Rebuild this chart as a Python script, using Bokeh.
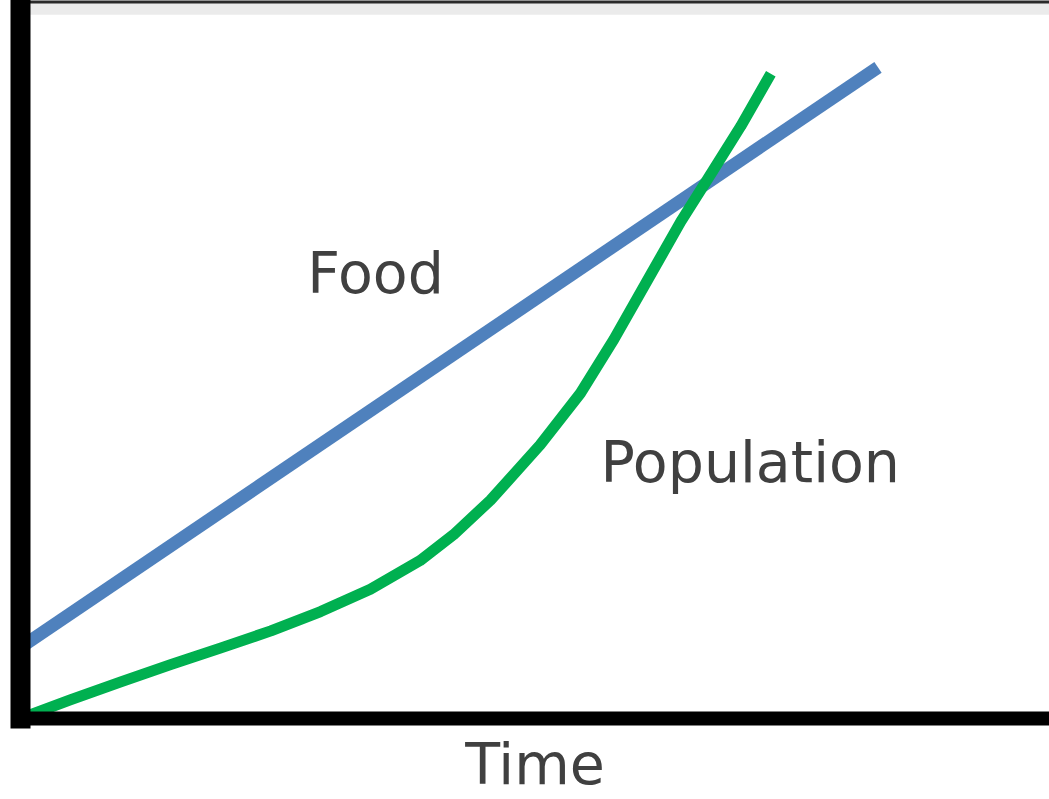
from bokeh.plotting import figure
from bokeh.models import Range1d, Span, BoxAnnotation
from bokeh.core.properties import value
from bokeh.embed import file_html
from bokeh.resources import INLINE

# Data (arbitrary units)
food_time = [0, 10]
food_value = [9.9, 90.7]

pop_time = [0, 0.58, 1.17, 1.75, 2.33, 2.92, 3.50, 4.08, 4.66, 5.05,
            5.48, 6.06, 6.53, 6.92, 7.31, 7.70, 8.08, 8.40, 8.75]
pop_value = [0, 2.6, 5.1, 7.5, 9.8, 12.2, 14.9, 18.0, 22.0, 25.6,
             30.4, 38.1, 45.3, 52.8, 61.0, 69.2, 76.4, 82.5, 89.8]

series_names = ["Food", "Population"]
x_label = "Time"

FONT = "DejaVu Sans"
TEXT_COLOR = "#404040"
FS = "57px"

p = figure(width=1049, height=799, output_backend="svg", toolbar_location=None,
           x_range=Range1d(0, 12), y_range=Range1d(0, 100),
           min_border_left=20, min_border_right=0, min_border_top=0,
           min_border_bottom=81)
p.background_fill_color = "white"
p.border_fill_color = "white"
p.outline_line_color = None
p.grid.visible = False

for ax, w in ((p.xaxis, 14), (p.yaxis, 20)):
    ax.axis_line_width = w
    ax.axis_line_color = "black"
    ax.axis_line_cap = "square"
    ax.major_tick_line_color = None
    ax.minor_tick_line_color = None
    ax.major_tick_out = 0
    ax.major_tick_in = 0
    ax.minor_tick_out = 0
    ax.major_label_standoff = 0
    ax.major_label_text_font_size = "0px"
    ax.major_label_text_color = None

p.xaxis.axis_label = x_label
p.xaxis.axis_label_text_font = FONT
p.xaxis.axis_label_text_font_size = FS
p.xaxis.axis_label_text_font_style = "normal"
p.xaxis.axis_label_text_color = TEXT_COLOR
p.xaxis.axis_label_standoff = 12

# faint scan border at the top of the picture
p.add_layout(BoxAnnotation(bottom=98.0, top=100, fill_color="#ebebeb", fill_alpha=1,
                           line_color=None, level="underlay"))
p.add_layout(Span(location=100, dimension="width", line_color="#2a2a2a", line_width=6,
                  level="underlay"))

p.line(food_time, food_value, line_color="#4F81BD", line_width=13)
p.line(pop_time, pop_value, line_color="#00B050", line_width=11, line_join="round")

p.text(x=[4.14], y=[62.0], text=[series_names[0]], text_font=value(FONT),
       text_font_size=FS, text_color=TEXT_COLOR, text_align="center",
       text_baseline="alphabetic")
p.text(x=[8.51], y=[35.7], text=[series_names[1]], text_font=value(FONT),
       text_font_size=FS, text_color=TEXT_COLOR, text_align="center",
       text_baseline="alphabetic")

open("out.html", "w").write(file_html(p, INLINE))
